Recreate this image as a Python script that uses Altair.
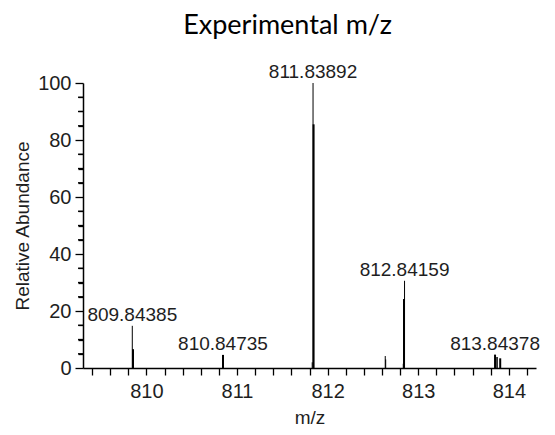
import altair as alt
import pandas as pd

# stick spectrum (m/z, relative abundance, line weight)
stick_mz = [809.844, 809.852, 810.845, 811.839, 811.845, 811.830,
            812.636, 812.641, 812.849, 812.843, 812.835,
            813.848, 813.870, 813.905]
stick_int = [14.8, 6.6, 4.6, 100.0, 85.5, 2.0,
             4.2, 3.0, 30.6, 24.2, 1.5,
             4.7, 3.9, 3.4]
stick_base = [0] * len(stick_mz)
stick_w = [1, 2, 2, 1, 2, 1,
           1, 1, 1, 2, 1,
           2, 1.5, 2]

# peak annotations
label_mz = [809.844, 810.845, 811.839, 812.849, 813.848]
label_int = [14.8, 4.6, 100.0, 30.6, 4.7]
label_txt = ["809.84385", "810.84735", "811.83892", "812.84159", "813.84378"]

x_ticks = [809.4, 809.6, 809.8, 810, 810.2, 810.4, 810.6, 810.8, 811, 811.2,
           811.4, 811.6, 811.8, 812, 812.2, 812.4, 812.6, 812.8, 813, 813.2,
           813.4, 813.6, 813.8, 814, 814.2]
x_labels = [810, 811, 812, 813, 814]
y_ticks = [0, 5, 10, 15, 20, 25, 30, 35, 40, 45, 50, 55, 60, 65, 70, 75,
           80, 85, 90, 95, 100]
y_minor = [5, 10, 15, 25, 30, 35, 45, 50, 55, 65, 70, 75, 85, 90, 95]

sticks = pd.DataFrame({"mz": stick_mz, "ab": stick_int, "base": stick_base, "w": stick_w})
labels = pd.DataFrame({"mz": label_mz, "ab": label_int, "t": label_txt})
minor = pd.DataFrame({"ab": y_minor})

FONT = "Liberation Sans"
TXT = "#1e1e1e"

x_axis = alt.Axis(
    title="m/z", values=x_ticks, tickCount=len(x_ticks),
    labelExpr="indexof(%s, datum.value) >= 0 ? format(datum.value, 'd') : ''" % str(x_labels),
    labelOverlap=False, grid=False, tickSize=7, tickWidth=1.3,
    tickColor="black", domainColor="black", domainWidth=1.5,
    labelFont=FONT, labelFontSize=20, labelColor=TXT, labelPadding=6,
    titleFont=FONT, titleFontSize=19, titleFontWeight="normal",
    titleColor=TXT, titlePadding=7,
)
y_axis = alt.Axis(
    title="Relative Abundance", values=y_ticks, tickCount=len(y_ticks),
    labelExpr="datum.value % 20 === 0 ? format(datum.value, 'd') : ''",
    labelOverlap=False, grid=False,
    tickSize={"condition": {"test": "datum.value % 20 === 0", "value": 8}, "value": 5},
    tickWidth=1.3, tickColor="black", domainColor="black", domainWidth=1.5,
    labelFont=FONT, labelFontSize=20, labelColor=TXT, labelPadding=4,
    titleFont=FONT, titleFontSize=19, titleFontWeight="normal",
    titleColor=TXT, titlePadding=5,
)
x_scale = alt.Scale(domain=[809.3, 814.3], nice=False, zero=False)
y_scale = alt.Scale(domain=[0, 100], nice=False)

# minor ticks of the y axis (every 5 %), short rules left of the axis line
minor_ticks = alt.Chart(minor).mark_rule(
    color="black", strokeWidth=1.3, clip=False
).encode(
    y=alt.Y("ab:Q", scale=y_scale, axis=y_axis),
    x=alt.value(-5),
    x2=alt.value(0),
)

rules = alt.Chart(sticks).mark_rule(color="black").encode(
    x=alt.X("mz:Q", scale=x_scale, axis=x_axis),
    y=alt.Y("ab:Q", scale=y_scale, axis=y_axis),
    y2=alt.Y2("base"),
    strokeWidth=alt.StrokeWidth("w:Q", scale=None),
)

texts = alt.Chart(labels).mark_text(
    font=FONT, fontSize=19, color=TXT, baseline="alphabetic", dy=-5
).encode(
    x=alt.X("mz:Q", scale=x_scale, axis=x_axis),
    y=alt.Y("ab:Q", scale=y_scale, axis=y_axis),
    text="t:N",
)

chart = alt.layer(minor_ticks, rules, texts).properties(
    width=453, height=285,
    padding={"left": 5, "top": 4, "right": 5, "bottom": 5},
    title=alt.TitleParams(
        "Experimental m/z", font="Lato", fontSize=27, fontWeight="normal",
        color="black", anchor="middle", frame="group", dx=-22, offset=23,
    ),
).configure_view(stroke=None)

chart.save("out.html", embed_options={"renderer": "svg", "actions": False})
